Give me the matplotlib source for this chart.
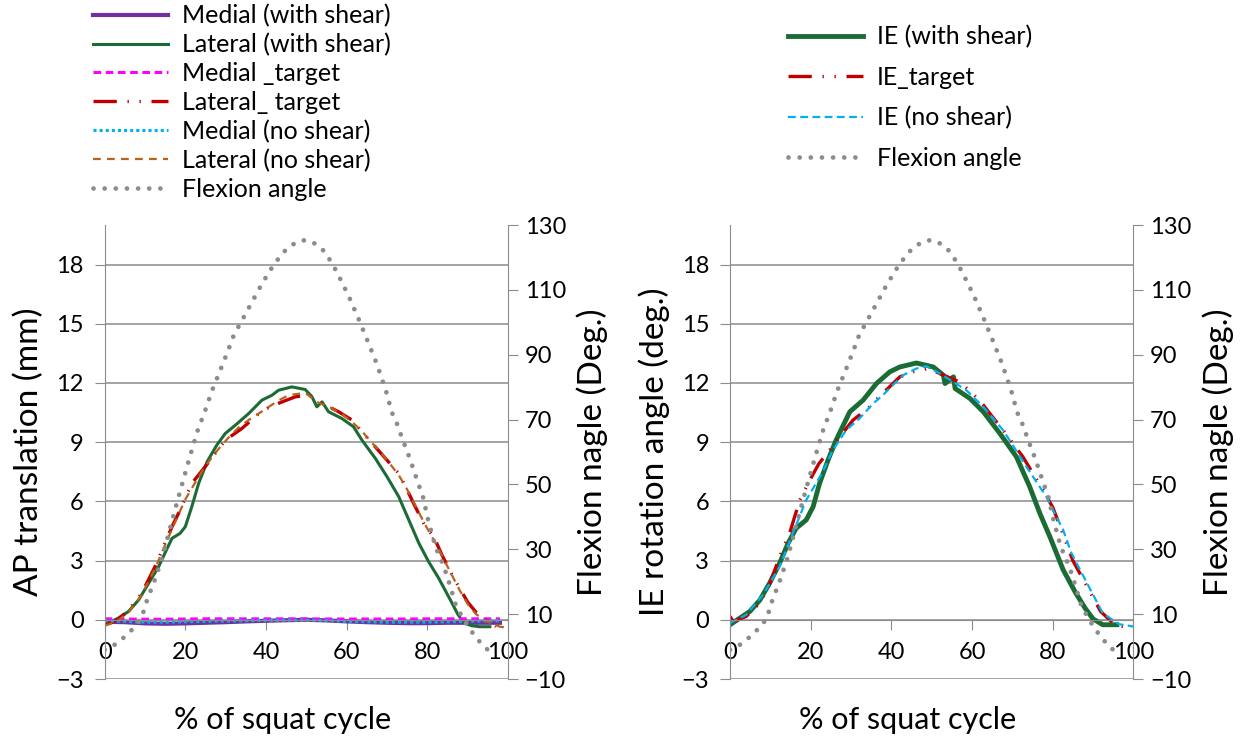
import matplotlib
matplotlib.use('Agg')
import matplotlib.pyplot as plt

plt.rcParams['font.family'] = ['Lato', 'DejaVu Sans']

# flexion angle (deg), same curve on both panels
flex_x = [0, 2.5, 4.3, 6.1, 7.6, 9.1, 10.5, 12.5, 14.5, 16.1, 18.1, 20.2, 21.6, 23.1, 24.9, 26.6,
          28.5, 30.5, 32, 34, 36.2, 38.6, 41, 43, 45, 47.5, 49.5, 51.5, 54, 56.2, 57.6, 60.5,
          63.3, 65.4, 67.4, 69.8, 71.2, 72.3, 74, 75.8, 77.3, 79, 80.1, 82, 84.1, 85.7, 87,
          89, 91, 93.3, 95, 97]
flex_deg = [-1.0, 0.6, 2.3, 4.4, 6.2, 8.7, 14.3, 20.8, 28.3, 36.0, 45.2, 54.5, 60.6, 66.8, 72.7, 78.9,
            84.7, 91, 96, 100.5, 105.5, 111, 116, 119.5, 122.5, 124.7, 125.3, 124.8, 122.5, 118.6, 115.4, 108.1,
            100, 93.6, 87.4, 78.6, 72.2, 69.3, 63.4, 57.5, 51.9, 45.8, 39.5, 30.8, 24.7, 18.5, 13,
            8.3, 4.6, 1.0, -1.0, -2.0]

# AP translation (mm)
lat_shear_x = [0, 3.3, 5.9, 8.4, 10.9, 13.4, 15.5, 16.7, 18.7, 20, 21.6, 23.3, 25.4, 27.8, 29.9, 32.4,
               35.7, 39, 41.5, 43.1, 46.4, 49.7, 51.4, 52.6, 53.9, 55.5, 58.8, 61.7, 63.8, 67.1, 70,
               72.9, 75.4, 77.9, 80.3, 82.8, 85.7, 87.5, 89, 91, 93, 95.5]
lat_shear_y = [-0.25, 0.08, 0.42, 1.0, 1.85, 2.7, 3.62, 4.13, 4.38, 4.72, 5.73, 6.91, 8.01, 8.85, 9.44, 9.86,
               10.45, 11.13, 11.38, 11.63, 11.8, 11.67, 11.3, 10.79, 11.04, 10.54, 10.2, 9.78, 9.1, 8.18, 7.25,
               6.24, 5.06, 3.88, 2.95, 2.11, 1.01, 0.3, -0.15, -0.3, -0.35, -0.35]

lat_target_x = [0, 3.3, 6, 9.2, 12.5, 14.6, 16.7, 18.7, 21.6, 24.9, 27.4, 29.9, 34, 38, 41, 44, 47.3,
                50.6, 53.9, 58, 61.3, 63.8, 66.5, 69.6, 72.9, 75, 77, 79.5, 81.6, 83.6, 85.7, 88, 90,
                92, 94.5, 97]
lat_target_y = [-0.25, 0.0, 0.5, 1.35, 2.7, 3.71, 4.72, 5.56, 6.91, 7.75, 8.43, 9.1, 9.69, 10.4, 10.8, 11.04, 11.3,
                11.38, 10.96, 10.54, 10.12, 9.52, 8.9, 8.18, 7.42, 6.58, 5.73, 4.72, 4.21, 3.29, 2.44, 1.6, 0.9,
                0.4, 0.0, -0.34]

lat_noshear_x = [0, 3, 6, 9, 12.5, 15, 18, 20, 22, 25, 28, 31, 33.5, 35.7, 38.2, 40.7, 43, 45.6, 48,
                 49.7, 51, 53, 56, 59, 62, 64, 67, 70, 73, 75, 77, 79.5, 82, 84, 86, 88, 90, 92, 94,
                 96, 98, 100]
lat_noshear_y = [-0.3, -0.1, 0.4, 1.2, 2.6, 3.8, 5.2, 6.1, 6.8, 7.8, 8.6, 9.3, 9.8, 10.12, 10.45, 10.79, 11.1, 11.38, 11.45,
                 11.5, 11.3, 11.0, 10.75, 10.4, 9.9, 9.5, 8.8, 8.1, 7.3, 6.6, 5.8, 4.8, 3.9, 3.1, 2.3, 1.5, 0.8, 0.3, 0.0,
                 -0.2, -0.35, -0.4]

med_x = [0, 5, 10, 15, 20, 25, 30, 35, 40, 45, 50, 55, 60, 65, 70, 75, 80, 85, 90, 95, 98]
med_shear_y = [-0.1, -0.12, -0.18, -0.2, -0.18, -0.15, -0.12, -0.08, -0.05, -0.02, 0.0, -0.03, -0.08, -0.12,
               -0.15, -0.17, -0.17, -0.15, -0.15, -0.15, -0.15]
med_target_y = [0.05, 0.04, 0.03, 0.03, 0.04, 0.05, 0.05, 0.05, 0.05, 0.05, 0.05, 0.04, 0.04, 0.04,
                0.04, 0.04, 0.05, 0.05, 0.05, 0.05, 0.05]
med_noshear_y = [-0.05, -0.08, -0.12, -0.12, -0.1, -0.08, -0.06, -0.05, -0.03, -0.02, -0.02, -0.04, -0.08,
                 -0.1, -0.12, -0.12, -0.12, -0.1, -0.08, -0.05, -0.05]

# IE rotation (deg)
ie_shear_x = [0, 2.4, 4.9, 7.4, 9.8, 12.3, 14.4, 16.4, 18.9, 20.6, 22.2, 24.3, 26.3, 29.7, 33, 36.3, 39.6,
              42.1, 46.2, 50.4, 52.9, 53.3, 55.4, 55.8, 59.5, 62.8, 66.9, 71, 74.3, 76.8, 79.3, 82.6,
              85.6, 88, 90, 92.4, 95.9]
ie_shear_y = [-0.25, 0.08, 0.42, 1.0, 1.85, 2.87, 3.88, 4.64, 5.06, 5.73, 6.91, 8.09, 9.1, 10.54, 11.13, 11.97, 12.56,
              12.81, 13.01, 12.81, 12.39, 11.97, 12.31, 11.72, 11.21, 10.54, 9.44, 8.26, 6.74, 5.4, 4.21, 2.53,
              1.4, 0.6, 0.05, -0.25, -0.25]

ie_target_x = [0, 0.8, 4, 7.4, 10, 12.3, 14.9, 17.3, 19.8, 22, 24.7, 27.2, 30.5, 34.2, 37, 40.4, 42.1, 45.4,
               49.1, 52, 56.9, 60, 62.8, 65, 67.7, 72.6, 77.6, 80, 82.1, 85, 88.5, 91.9, 95.4, 99.3]
ie_target_y = [0.17, -0.08, 0.17, 0.84, 1.9, 3.2, 4.47, 6.07, 7.08, 7.9, 8.6, 9.27, 10.12, 10.71, 11.3, 11.97, 12.31, 12.56,
               12.73, 12.48, 12.05, 11.5, 10.88, 10.3, 9.61, 8.26, 6.58, 5.7, 4.6, 3.0, 1.69, 0.42, -0.25, -0.42]

ie_noshear_x = [0, 4, 8.2, 12.3, 16.4, 18.9, 23, 25.5, 28.8, 32.1, 35.5, 38, 40.4, 43, 46.2, 48.7, 52, 55,
                58.6, 62.8, 67.7, 73.5, 78.4, 82.6, 84.6, 88.5, 92.4, 96.4, 100]
ie_noshear_y = [-0.17, 0.25, 1.27, 2.7, 4.81, 6.07, 7.5, 8.6, 9.61, 10.2, 10.96, 11.4, 11.9, 12.4, 12.73, 12.85, 12.48, 12.1,
                11.63, 10.79, 9.61, 7.75, 6.24, 4.55, 3.4, 1.86, 0.34, -0.22, -0.34]

GRID = '#8c8c8c'
C_PURPLE = '#7030a0'
C_GREEN = '#1b6b35'
C_MAGENTA = '#ff00ff'
C_RED = '#c00000'
C_CYAN = '#00b0f0'
C_BROWN = '#b8621b'
C_GRAY = '#8c8c8c'

LDD = (0, (7, 3.2, 0.4, 3.2, 0.4, 3.2))  # long dash dot dot
FLEX = (0, (0.01, 2.35))

fig = plt.figure(figsize=(12.43, 7.40), dpi=100)


def setup(ax, ylabel):
    ax.set_xlim(0, 100)
    ax.set_ylim(-3, 20)
    ax.set_yticks(range(-3, 19, 3))
    ax.set_xticks(range(0, 101, 20))
    ax.grid(axis='y', color=GRID, lw=1.1)
    ax.set_axisbelow(True)
    for s in ['top', 'right']:
        ax.spines[s].set_visible(False)
    ax.spines['left'].set_color(GRID)
    ax.spines['bottom'].set_color(GRID)
    ax.spines['bottom'].set_position(('data', 0))
    ax.tick_params(axis='y', direction='out', length=7, color=GRID, pad=8, labelsize=17)
    ax.tick_params(axis='x', direction='out', length=7, color=GRID, pad=9, labelsize=17)
    ax.set_ylabel(ylabel, fontsize=24)
    ax.yaxis.set_label_coords(-0.15, 0.5)
    ax.set_xlabel('% of squat cycle', fontsize=22)
    ax.xaxis.set_label_coords(0.44, -0.06)

    ax2 = ax.twinx()
    ax2.set_ylim(-10, 130)
    ax2.set_yticks(range(-10, 131, 20))
    for s in ['top', 'left', 'bottom']:
        ax2.spines[s].set_visible(False)
    ax2.spines['right'].set_color(GRID)
    ax2.tick_params(axis='y', direction='out', length=7, color=GRID, pad=5, labelsize=17)
    ax2.set_ylabel('Flexion nagle (Deg.)', fontsize=24)
    ax2.yaxis.set_label_coords(1.17, 0.5)
    return ax2


# left panel
ax = fig.add_axes([0.0842, 0.0824, 0.3245, 0.6135])
ax2 = setup(ax, 'AP translation (mm)')
h1, = ax.plot(med_x, med_shear_y, color=C_PURPLE, lw=3, label='Medial (with shear)')
h2, = ax.plot(lat_shear_x, lat_shear_y, color=C_GREEN, lw=2.2, label='Lateral (with shear)')
h3, = ax.plot(med_x, med_target_y, color=C_MAGENTA, lw=2.2, ls=(0, (2.5, 1.5)), label='Medial _target')
h4, = ax.plot(lat_target_x, lat_target_y, color=C_RED, lw=2.4, ls=LDD, label='Lateral_ target')
h5, = ax.plot(med_x, med_noshear_y, color=C_CYAN, lw=2.2, ls=(0, (1, 1)), label='Medial (no shear)')
h6, = ax.plot(lat_noshear_x, lat_noshear_y, color=C_BROWN, lw=1.6, ls=(0, (3.5, 2.8)), label='Lateral (no shear)')
h7, = ax2.plot(flex_x, flex_deg, color=C_GRAY, lw=3.4, ls=FLEX, dash_capstyle='round', label='Flexion angle')
fig.legend(handles=[h1, h2, h3, h4, h5, h6, h7], loc='upper left', bbox_to_anchor=(93 / 1243, 1 - 4 / 740),
           frameon=False, fontsize=18, handlelength=3.0, handletextpad=0.56, labelspacing=0.23,
           borderpad=0, borderaxespad=0)

# right panel
bx = fig.add_axes([0.5873, 0.0824, 0.3245, 0.6135])
bx2 = setup(bx, 'IE rotation angle (deg.)')
g1, = bx.plot(ie_shear_x, ie_shear_y, color=C_GREEN, lw=3.5, label='IE (with shear)')
g2, = bx.plot(ie_target_x, ie_target_y, color=C_RED, lw=2.4, ls=LDD, label='IE_target')
g3, = bx.plot(ie_noshear_x, ie_noshear_y, color=C_CYAN, lw=1.6, ls=(0, (3.5, 2)), label='IE (no shear)')
g4, = bx2.plot(flex_x, flex_deg, color=C_GRAY, lw=3.4, ls=FLEX, dash_capstyle='round', label='Flexion angle')
fig.legend(handles=[g1, g2, g3, g4], loc='upper left', bbox_to_anchor=(788 / 1243, 1 - 25 / 740),
           frameon=False, fontsize=18, handlelength=3.0, handletextpad=0.56, labelspacing=0.7,
           borderpad=0, borderaxespad=0)

fig.savefig('out.png', dpi=100)
